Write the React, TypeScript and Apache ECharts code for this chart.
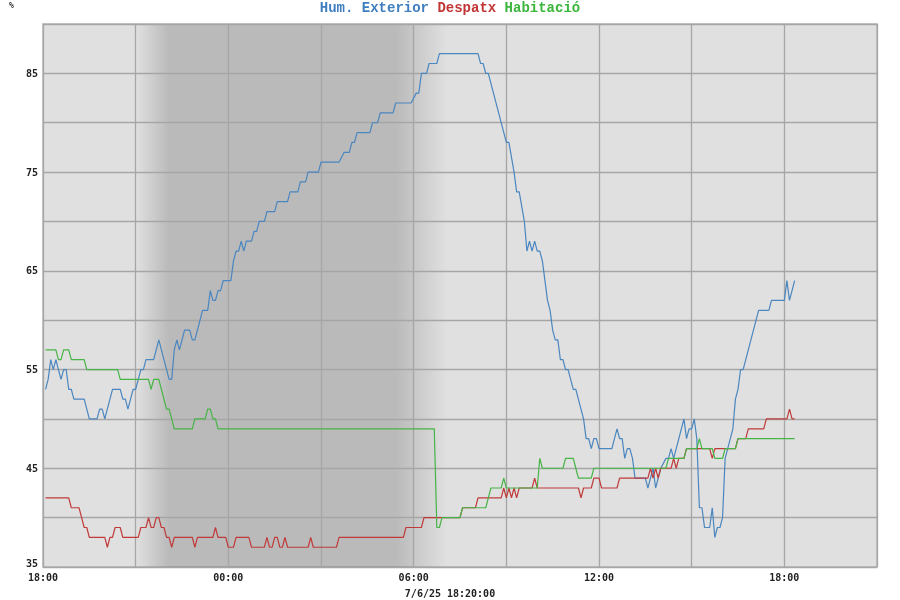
import React, { useEffect, useRef } from "react";
import * as echarts from "echarts";

// ---- data (clock time, value) ----
const humExtTimes = ["18:05","18:10","18:15","18:20","18:25","18:30","18:35","18:40","18:45","18:50","18:55","19:00","19:20","19:30","19:45","19:50","19:55","20:00","20:15","20:30","20:35","20:40","20:45","20:55","21:00","21:10","21:15","21:20","21:35","21:45","21:55","22:05","22:10","22:15","22:20","22:25","22:35","22:45","22:50","22:55","23:05","23:10","23:20","23:25","23:30","23:35","23:40","23:45","23:50","00:05","00:10","00:15","00:20","00:25","00:30","00:35","00:45","00:50","00:55","01:00","01:10","01:15","01:30","01:35","01:55","02:00","02:15","02:20","02:30","02:35","02:55","03:00","03:35","03:45","03:55","04:00","04:05","04:10","04:35","04:40","04:50","04:55","05:20","05:25","05:55","06:05","06:10","06:15","06:25","06:30","06:45","06:50","08:05","08:10","08:15","08:20","08:25","09:00","09:05","09:15","09:20","09:25","09:35","09:40","09:45","09:50","09:55","10:00","10:05","10:10","10:15","10:20","10:25","10:30","10:35","10:40","10:45","10:50","10:55","11:00","11:10","11:15","11:25","11:30","11:35","11:40","11:45","11:50","11:55","12:00","12:25","12:35","12:40","12:45","12:50","12:55","13:00","13:05","13:10","13:30","13:35","13:40","13:45","13:50","13:55","14:00","14:10","14:15","14:20","14:25","14:30","14:45","14:50","14:55","15:00","15:05","15:10","15:15","15:20","15:25","15:35","15:40","15:45","15:50","15:55","16:00","16:05","16:10","16:20","16:25","16:30","16:35","16:40","17:10","17:30","17:35","18:00","18:05","18:10","18:20"];
const humExtValues = [53,54,56,55,56,55,54,55,55,53,53,52,52,50,50,51,51,50,53,53,52,52,51,53,53,55,55,56,56,58,56,54,54,57,58,57,59,59,58,58,60,61,61,63,62,62,63,63,64,64,66,67,67,68,67,68,68,69,69,70,70,71,71,72,72,73,73,74,74,75,75,76,76,77,77,78,78,79,79,80,80,81,81,82,82,83,83,85,85,86,86,87,87,86,86,85,85,78,78,75,73,73,70,67,68,67,68,67,67,66,64,62,61,59,58,58,56,56,55,55,53,53,51,50,48,48,47,48,48,47,47,49,48,48,46,47,47,46,44,44,43,44,45,43,44,45,46,46,47,46,47,50,48,49,49,50,48,41,41,39,39,41,38,39,39,40,46,47,49,52,53,55,55,61,61,62,62,64,62,64];

const despatxTimes = ["18:05","18:50","18:55","19:10","19:20","19:25","19:30","20:00","20:05","20:10","20:15","20:20","20:30","20:35","21:05","21:10","21:20","21:25","21:30","21:35","21:40","21:45","21:50","21:55","22:00","22:05","22:10","22:15","22:50","22:55","23:00","23:30","23:35","23:40","23:55","00:00","00:10","00:15","00:40","00:45","01:10","01:15","01:20","01:25","01:30","01:35","01:40","01:45","01:50","01:55","02:35","02:40","02:45","03:30","03:35","05:40","05:45","06:15","06:20","07:30","07:35","08:00","08:05","08:50","08:55","09:00","09:05","09:10","09:15","09:20","09:25","09:50","09:55","10:00","11:20","11:25","11:30","11:45","11:50","12:00","12:05","12:35","12:40","13:35","13:40","13:45","13:50","13:55","14:00","14:20","14:25","14:30","14:35","14:45","14:50","15:35","15:40","15:45","16:25","16:30","16:45","16:50","17:20","17:25","18:05","18:10","18:15","18:20"];
const despatxValues = [42,42,41,41,39,39,38,38,37,38,38,39,39,38,38,39,39,40,39,39,40,40,39,39,38,38,37,38,38,37,38,38,39,38,38,37,37,38,38,37,37,38,37,37,38,38,37,37,38,37,37,38,37,37,38,38,39,39,40,40,41,41,42,42,43,42,43,42,43,42,43,43,44,43,43,42,43,43,44,44,43,43,44,44,45,44,45,44,45,45,46,45,46,46,47,47,46,47,47,48,48,49,49,50,50,51,50,50];

const habitacioTimes = ["18:05","18:25","18:30","18:35","18:40","18:50","18:55","19:20","19:25","20:25","20:30","21:25","21:30","21:35","21:45","21:50","22:00","22:05","22:15","22:50","22:55","23:15","23:20","23:25","23:30","23:35","23:40","06:40","06:45","06:50","06:55","07:30","07:35","08:20","08:25","08:30","08:50","08:55","09:00","10:00","10:05","10:10","10:50","10:55","11:10","11:15","11:20","11:45","11:50","14:10","14:15","14:45","14:50","15:10","15:15","15:20","15:40","15:45","16:00","16:05","16:25","16:30","18:20"];
const habitacioValues = [57,57,56,56,57,57,56,56,55,55,54,54,53,54,54,53,51,51,49,49,50,50,51,51,50,50,49,49,39,39,40,40,41,41,42,43,43,44,43,43,46,45,45,46,46,45,44,44,45,45,46,46,47,47,48,47,47,46,46,47,47,48,48];

const yTicks = [35, 45, 55, 65, 75, 85];
const seriesNames = ["Hum. Exterior", "Despatx", "Habitació"];
const seriesColors = ["#4a86bf", "#c03a3a", "#46b446"];
const titleColors = ["#3f7fbf", "#c23535", "#3cb63c"];
const nightStart = "21:00";
const nightFullStart = "22:05";
const nightFullEnd = "05:25";
const nightEnd = "07:05";
const stampText = "7/6/25 18:20:00";

// ---- helpers ----
const START_MIN = 18 * 60;
function toOffsets(times: string[]): number[] {
  const out: number[] = [];
  let prev = -1;
  for (const t of times) {
    const [h, m] = t.split(":").map(Number);
    let v = (h * 60 + m - START_MIN + 1440) % 1440;
    while (v < prev) v += 1440;
    out.push(v);
    prev = v;
  }
  return out;
}
function pairs(times: string[], values: number[]) {
  const xs = toOffsets(times);
  return xs.map((x, i) => [x, values[i]]);
}
function clockLabel(v: number) {
  const total = (START_MIN + v) % 1440;
  const h = Math.floor(total / 60);
  const m = total % 60;
  return String(h).padStart(2, "0") + ":" + String(m).padStart(2, "0");
}

export default function App() {
  const ref = useRef<HTMLDivElement>(null);
  useEffect(() => {
    if (!ref.current) return;
    const chart = echarts.init(ref.current, undefined, { renderer: "svg" });
    const [ns, nfs, nfe, ne] = toOffsets([nightStart, nightFullStart, nightFullEnd, nightEnd]);
    const span = ne - ns;
    const dark = "rgba(0,0,0,0.17)";
    const clear = "rgba(0,0,0,0)";
    const labelFont = {
      fontFamily: "DejaVu Sans Mono",
      fontWeight: "bold" as const,
      fontSize: 10,
      color: "#222",
    };
    chart.setOption({
      animation: false,
      title: {
        text: seriesNames.map((n, i) => `{s${i}|${n}}`).join(" "),
        left: "center",
        top: 1,
        padding: 0,
        textStyle: {
          fontFamily: "Liberation Mono",
          fontWeight: "bold",
          fontSize: 14,
          lineHeight: 14,
          rich: Object.fromEntries(
            seriesNames.map((_, i) => [
              `s${i}`,
              { color: titleColors[i], fontFamily: "Liberation Mono", fontWeight: "bold", fontSize: 14, lineHeight: 14 },
            ])
          ),
        },
      },
      graphic: [
        {
          type: "text",
          left: 9,
          top: 1,
          style: { text: "%", font: "bold 8px 'DejaVu Sans Mono'", fill: "#222" },
        },
        {
          type: "text",
          left: "center",
          top: 588,
          style: { text: stampText, font: "bold 10px 'DejaVu Sans Mono'", fill: "#222" },
        },
      ],
      grid: {
        left: 43,
        right: 23,
        top: 24,
        bottom: 33,
        show: true,
        backgroundColor: "#e0e0e0",
        borderColor: "#b4b4b4",
        borderWidth: 1.5,
      },
      xAxis: {
        type: "value",
        min: 0,
        max: 27 * 60,
        interval: 180,
        z: 2,
        axisLine: { show: false },
        axisTick: { show: false },
        splitLine: { show: true, lineStyle: { color: "#a6a6a6", width: 1.3 } },
        axisLabel: {
          ...labelFont,
          margin: 5,
          formatter: (v: number) => (v % 360 === 0 ? clockLabel(v) : ""),
        },
      },
      yAxis: {
        type: "value",
        min: 35,
        max: 90,
        interval: 5,
        z: 2,
        axisLine: { show: false },
        axisTick: { show: false },
        splitLine: { show: true, lineStyle: { color: "#a6a6a6", width: 1.3 } },
        axisLabel: {
          ...labelFont,
          margin: 5,
          formatter: (v: number) =>
            v === yTicks[0] ? `{lo|${v}}` : yTicks.includes(v) ? String(v) : "",
          rich: {
            lo: { ...labelFont, padding: [0, 0, 7, 0] },
          },
        },
      },
      series: [
        {
          type: "line",
          name: "night",
          data: [],
          z: 1,
          silent: true,
          markArea: {
            silent: true,
            data: [
              [
                {
                  xAxis: ns,
                  itemStyle: {
                    color: new echarts.graphic.LinearGradient(1, 0, 0, 0, [
                      { offset: 0, color: clear },
                      { offset: (ne - nfe) / span, color: dark },
                      { offset: 1 - (nfs - ns) / span, color: dark },
                      { offset: 1, color: clear },
                    ]),
                  },
                },
                { xAxis: ne },
              ],
            ],
          },
        },
        ...[
          [humExtTimes, humExtValues],
          [despatxTimes, despatxValues],
          [habitacioTimes, habitacioValues],
        ].map(([t, v], i) => ({
          type: "line",
          name: seriesNames[i],
          data: pairs(t as string[], v as number[]),
          z: 3,
          symbol: "none",
          lineStyle: { color: seriesColors[i], width: 1.2 },
          itemStyle: { color: seriesColors[i] },
        })),
      ],
    });
    return () => chart.dispose();
  }, []);
  return (
    <div
      ref={ref}
      style={{ position: "fixed", left: 0, top: 0, width: 900, height: 600 }}
    />
  );
}
